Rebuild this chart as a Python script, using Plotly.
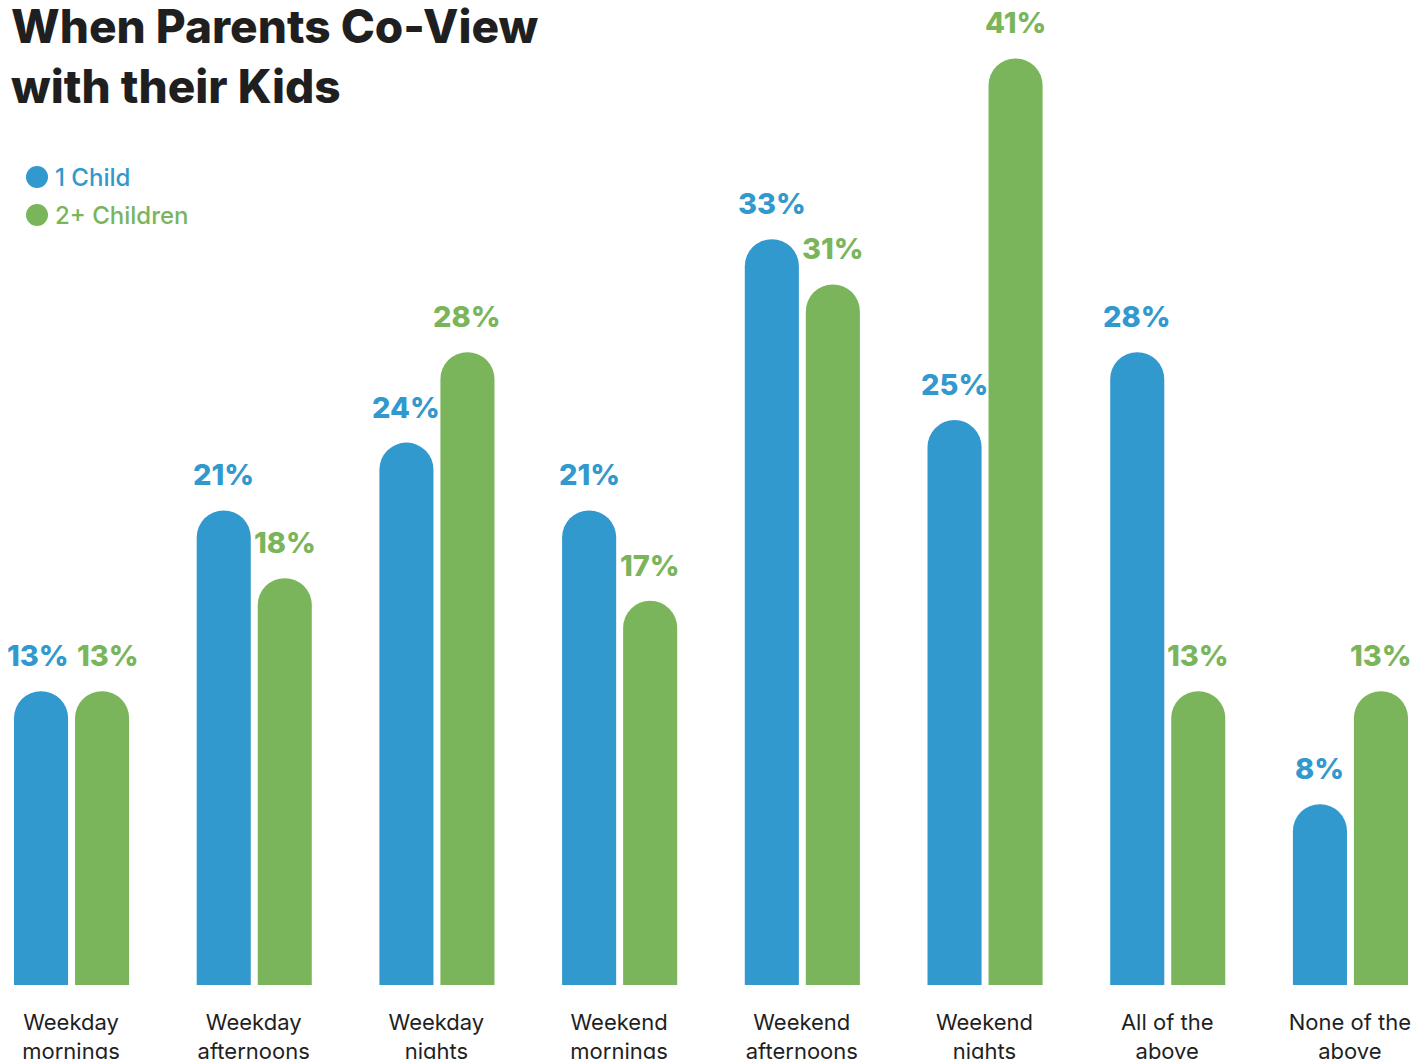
import plotly.graph_objects as go

# Survey data: share of parents co-viewing, by time slot
categories = [
    "Weekday<br>mornings", "Weekday<br>afternoons", "Weekday<br>nights",
    "Weekend<br>mornings", "Weekend<br>afternoons", "Weekend<br>nights",
    "All of the<br>above", "None of the<br>above",
]
one_child = [13, 21, 24, 21, 33, 25, 28, 8]
two_plus_children = [13, 18, 28, 17, 31, 41, 13, 13]
series_names = ["1 Child", "2+ Children"]

BLUE = "#3199CE"
GREEN = "#7AB55C"
DARK = "#1F1F1F"

W, H = 1428, 1059
M_BOTTOM = 74
PX_PER_UNIT = 22.6
plot_h = H - M_BOTTOM

BAR_W = 0.296
OFFSETS = (-0.312, 0.022)
fig = go.Figure()
for vals, name, col, off in zip((one_child, two_plus_children), series_names,
                                (BLUE, GREEN), OFFSETS):
    fig.add_trace(go.Bar(
        x=list(range(len(categories))), y=vals, name=name,
        marker=dict(color=col, cornerradius="50%", line=dict(width=0)),
        width=BAR_W, offset=off, showlegend=False, hoverinfo="y",
    ))

# Value labels above each bar (the first pair is nudged apart so it doesn't collide)
label_font = dict(family="Inter", size=29, weight=800)
for i in range(len(categories)):
    for k, (vals, off, col) in enumerate(zip((one_child, two_plus_children), OFFSETS, (BLUE, GREEN))):
        nudge = (-3 if k == 0 else 6) if i == 0 else 0
        fig.add_annotation(
            x=i + off + BAR_W / 2, y=vals[i], xref="x", yref="y",
            text=f"{vals[i]}%", showarrow=False, yanchor="bottom", xanchor="center",
            yshift=16, xshift=nudge, font=dict(label_font, color=col),
        )

# Title
fig.add_annotation(
    x=9 / W, y=1, xref="paper", yref="paper", xanchor="left", yanchor="top",
    yshift=4, align="left", showarrow=False,
    text="When Parents Co-View<br>with their Kids",
    font=dict(family="Inter", size=46, weight=800, color=DARK),
)

# Legend: coloured dots with matching text
for k, (name, col) in enumerate(zip(series_names, (BLUE, GREEN))):
    cy = 177 + 38 * k
    fig.add_shape(
        type="circle", xref="paper", yref="paper",
        x0=26 / W, x1=48 / W,
        y0=1 - (cy + 11) / plot_h, y1=1 - (cy - 11) / plot_h,
        fillcolor=col, line=dict(width=0),
    )
    fig.add_annotation(
        x=53 / W, y=1 - cy / plot_h, xref="paper", yref="paper",
        xanchor="left", yanchor="middle", showarrow=False, text=name,
        font=dict(family="Inter", size=24, weight=500, color=col),
    )

x0 = -71 / 182.7
x1 = (W - 71) / 182.7
fig.update_layout(
    width=W, height=H,
    margin=dict(l=0, r=0, t=0, b=M_BOTTOM, pad=0),
    paper_bgcolor="white", plot_bgcolor="white",
    barmode="overlay",
    xaxis=dict(
        range=[x0, x1], tickmode="array", tickvals=list(range(len(categories))),
        ticktext=categories, showgrid=False, zeroline=False, showline=False,
        ticks="", ticklabelstandoff=22, automargin=False,
        tickfont=dict(family="Inter", size=22, color=DARK),
    ),
    yaxis=dict(
        range=[0, plot_h / PX_PER_UNIT], visible=False, showgrid=False,
        zeroline=False, automargin=False,
    ),
)

fig.write_html("out.html")
